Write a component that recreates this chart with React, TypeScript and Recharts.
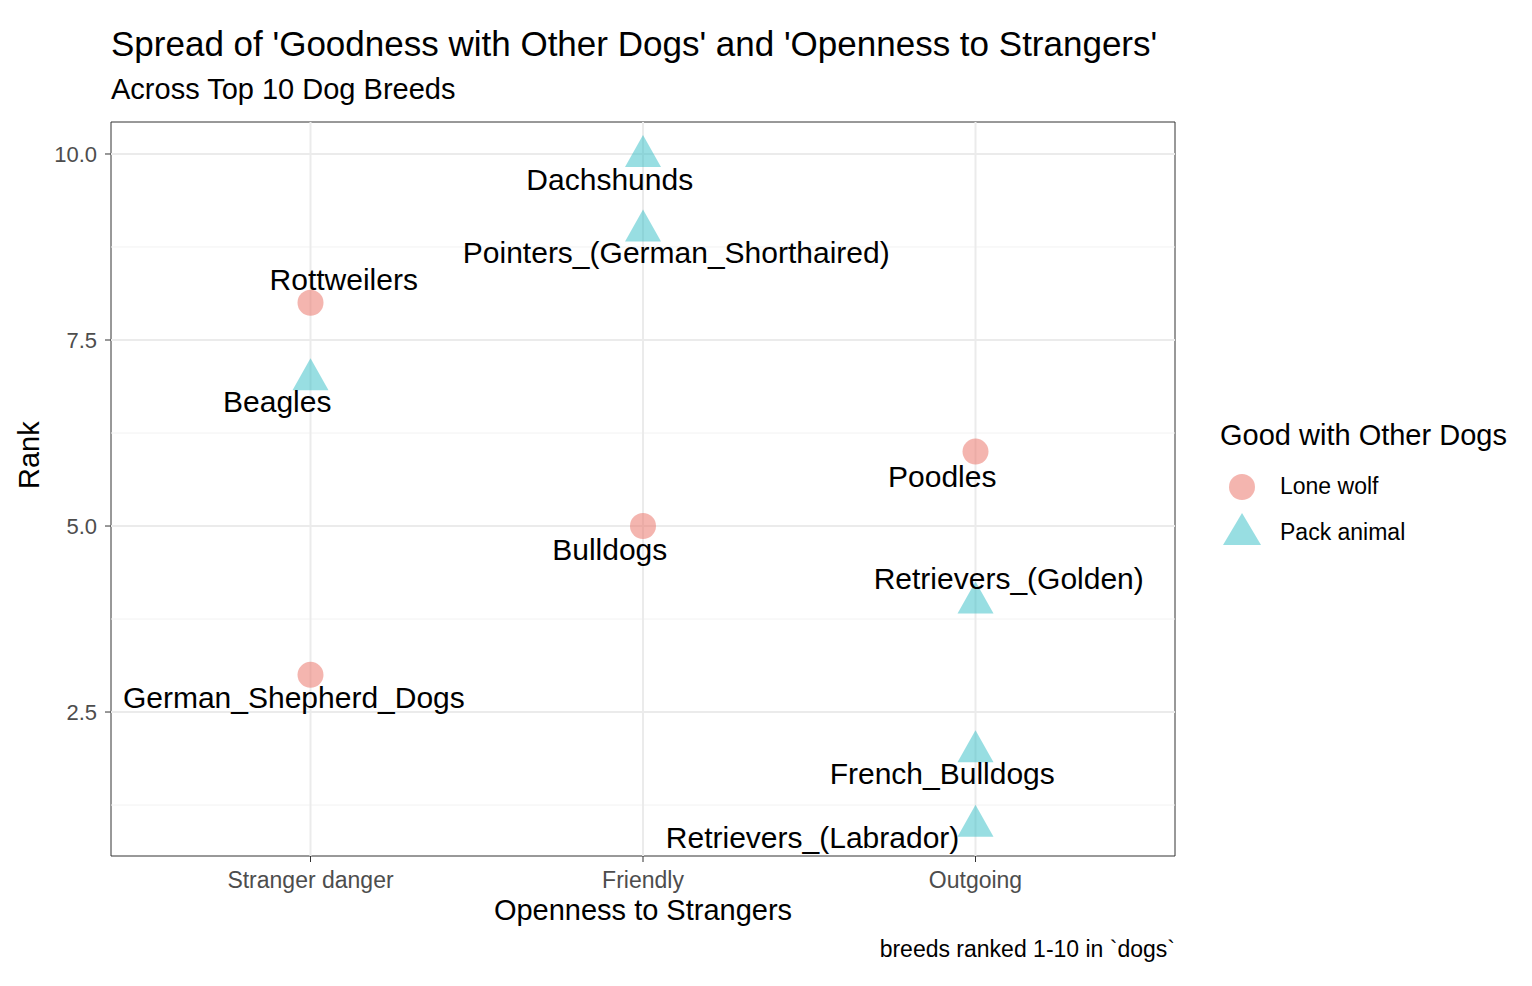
import React from 'react';
import {
  ScatterChart, Scatter, XAxis, YAxis, ReferenceLine, ReferenceArea,
} from 'recharts';

const OPENNESS = ['Stranger danger', 'Friendly', 'Outgoing'];
const BREEDS = [
  'Retrievers_(Labrador)', 'French_Bulldogs', 'German_Shepherd_Dogs', 'Retrievers_(Golden)', 'Bulldogs',
  'Poodles', 'Beagles', 'Rottweilers', 'Pointers_(German_Shorthaired)', 'Dachshunds',
];
const RANKS = [1, 2, 3, 4, 5, 6, 7, 8, 9, 10];
const OPEN_IDX = [3, 3, 1, 3, 2, 3, 1, 1, 2, 2];
const PACK = [true, true, false, true, false, false, true, false, true, true];
// label anchor in data units
const LABEL_X = [2.51, 2.9, 0.95, 3.1, 1.9, 2.9, 0.9, 1.1, 2.1, 1.9];
const LABEL_Y = [0.82, 1.68, 2.69, 4.29, 4.69, 5.67, 6.68, 8.31, 8.67, 9.66];
const Y_TICKS = [2.5, 5, 7.5, 10];
const Y_MINOR = [1.25, 3.75, 6.25, 8.75];

const points = BREEDS.map((b, i) => ({ breed: b, x: OPEN_IDX[i], y: RANKS[i], pack: PACK[i] }));
const lone = points.filter((p) => !p.pack);
const pack = points.filter((p) => p.pack);
const labels = BREEDS.map((b, i) => ({ breed: b, x: LABEL_X[i], y: LABEL_Y[i] }));

const FONT = 'Liberation Sans, Arial, Helvetica, sans-serif';
const RED = 'rgba(235,120,110,0.55)';
const CYAN = 'rgba(40,185,195,0.48)';

const Circle = (p: any) => <circle cx={p.cx} cy={p.cy} r={13} fill={RED} />;
const Tri = (p: any) => (
  <polygon points={`${p.cx},${p.cy - 19} ${p.cx - 18},${p.cy + 13} ${p.cx + 18},${p.cy + 13}`} fill={CYAN} />
);
const Label = (p: any) => (
  <text x={p.cx} y={p.cy} textAnchor="middle" dominantBaseline="central" fontSize={30} fontFamily={FONT} fill="#000">
    {p.payload.breed}
  </text>
);

export default function App() {
  return (
    <div style={{ position: 'absolute', left: 0, top: 0, width: 1532, height: 986, background: '#fff', fontFamily: FONT }}>
      <div style={{ position: 'absolute', left: 111, top: 24, fontSize: 35, whiteSpace: 'nowrap' }}>
        Spread of 'Goodness with Other Dogs' and 'Openness to Strangers'
      </div>
      <div style={{ position: 'absolute', left: 111, top: 73, fontSize: 29 }}>Across Top 10 Dog Breeds</div>
      <ScatterChart width={1532} height={986} margin={{ top: 122, right: 357, bottom: 100, left: 51 }}>
        <ReferenceArea x1={0.4} x2={3.6} y1={0.565} y2={10.43} fill="#fff" fillOpacity={0} stroke="#333" strokeWidth={1} ifOverflow="extendDomain" />
        {Y_MINOR.map((v) => <ReferenceLine key={'m' + v} y={v} stroke="#f2f2f2" strokeWidth={1} />)}
        {Y_TICKS.map((v) => <ReferenceLine key={'y' + v} y={v} stroke="#ebebeb" strokeWidth={2} />)}
        {[1, 2, 3].map((v) => <ReferenceLine key={'x' + v} x={v} stroke="#ebebeb" strokeWidth={2} />)}
        <XAxis
          type="number" dataKey="x" domain={[0.4, 3.6]} ticks={[1, 2, 3]} height={30}
          tickFormatter={(v) => OPENNESS[v - 1]} axisLine={false} tickLine={{ stroke: '#333' }} tickSize={6} tickMargin={10}
          tick={{ fontSize: 23, fill: '#4d4d4d', fontFamily: FONT }}
          label={{ value: 'Openness to Strangers', position: 'insideBottom', offset: -34, fontSize: 29, fill: '#000', fontFamily: FONT }}
        />
        <YAxis
          type="number" dataKey="y" domain={[0.565, 10.43]} ticks={Y_TICKS} width={60}
          tickFormatter={(v) => v.toFixed(1)} axisLine={false} tickLine={{ stroke: '#333' }} tickSize={6} tickMargin={8}
          tick={{ fontSize: 22, fill: '#4d4d4d', fontFamily: FONT }}
          label={{ value: 'Rank', angle: -90, position: 'insideLeft', offset: -22, fontSize: 29, fill: '#000', fontFamily: FONT }}
        />
        <Scatter data={lone} shape={Circle} isAnimationActive={false} />
        <Scatter data={pack} shape={Tri} isAnimationActive={false} />
        <Scatter data={labels} shape={Label} isAnimationActive={false} />
      </ScatterChart>
      <div style={{ position: 'absolute', left: 1220, top: 419, fontSize: 29, whiteSpace: 'nowrap' }}>Good with Other Dogs</div>
      <svg style={{ position: 'absolute', left: 1220, top: 468 }} width={50} height={90}>
        <circle cx={22} cy={19} r={13} fill={RED} />
        <polygon points="22,45 3,77 41,77" fill={CYAN} />
      </svg>
      <div style={{ position: 'absolute', left: 1280, top: 473, fontSize: 23 }}>Lone wolf</div>
      <div style={{ position: 'absolute', left: 1280, top: 519, fontSize: 23 }}>Pack animal</div>
      <div style={{ position: 'absolute', right: 1532 - 1175, top: 936, fontSize: 23, whiteSpace: 'nowrap' }}>breeds ranked 1-10 in `dogs`</div>
    </div>
  );
}
